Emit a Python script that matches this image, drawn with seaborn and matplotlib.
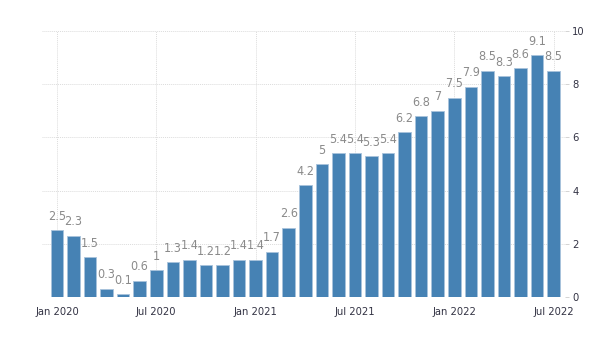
import matplotlib
matplotlib.use("Agg")
from matplotlib import pyplot as plt
from matplotlib import font_manager
import seaborn as sns
import pandas as pd

months = pd.date_range("2020-01-01", "2022-07-01", freq="MS").strftime("%b %Y").tolist()
values = [2.5, 2.3, 1.5, 0.3, 0.1, 0.6, 1, 1.3, 1.4, 1.2, 1.2, 1.4,
          1.4, 1.7, 2.6, 4.2, 5, 5.4, 5.4, 5.3, 5.4, 6.2, 6.8, 7,
          7.5, 7.9, 8.5, 8.3, 8.6, 9.1, 8.5]
tick_labels = ["Jan 2020", "Jul 2020", "Jan 2021", "Jul 2021", "Jan 2022", "Jul 2022"]
y_ticks = [0, 2, 4, 6, 8, 10]

df = pd.DataFrame({"month": months, "value": values})

sns.set_style("white")
plt.rcParams['font.family'] = ['DejaVu Sans']

fig = plt.figure(figsize=(6, 3.53), dpi=100)
ax = fig.add_axes([0.07, 0.159, 0.872, 0.753])

sns.barplot(data=df, x="month", y="value", order=months, color="#4682b4",
            saturation=1, width=0.76, edgecolor="#a8c3dc", linewidth=0.6, ax=ax, zorder=3)

cond = font_manager.FontProperties(family="DejaVu Sans", stretch="condensed", size=9)

# value labels
for i, v in enumerate(values):
    ax.text(i, v + 0.28, f"{v:g}", ha="center", va="bottom", fontproperties=cond,
            color="#8a8a8a", zorder=4)

pos = [months.index(t) for t in tick_labels]
ax.set_xticks(pos)
ax.set_xticklabels(tick_labels)
ax.set_xlim(-0.9, 30.7)

ax.set_ylim(0, 10)
ax.set_yticks(y_ticks)
ax.yaxis.tick_right()
ax.tick_params(axis="y", length=3, width=0.6, pad=2, color="#cccccc")
ax.tick_params(axis="x", length=3, width=0.6, color="#dddddd", pad=4)
tick_font = font_manager.FontProperties(family="DejaVu Sans", stretch="condensed", size=8)
for lbl in ax.get_yticklabels() + ax.get_xticklabels():
    lbl.set_fontproperties(tick_font)
    lbl.set_color("#333344")

ax.grid(True, color="#dcdcdc", linestyle=(0, (1, 1)), linewidth=0.7, zorder=0)
ax.set_axisbelow(True)
ax.set_xlabel("")
ax.set_ylabel("")
for s in ax.spines.values():
    s.set_visible(False)

plt.savefig("out.png", dpi=100)
